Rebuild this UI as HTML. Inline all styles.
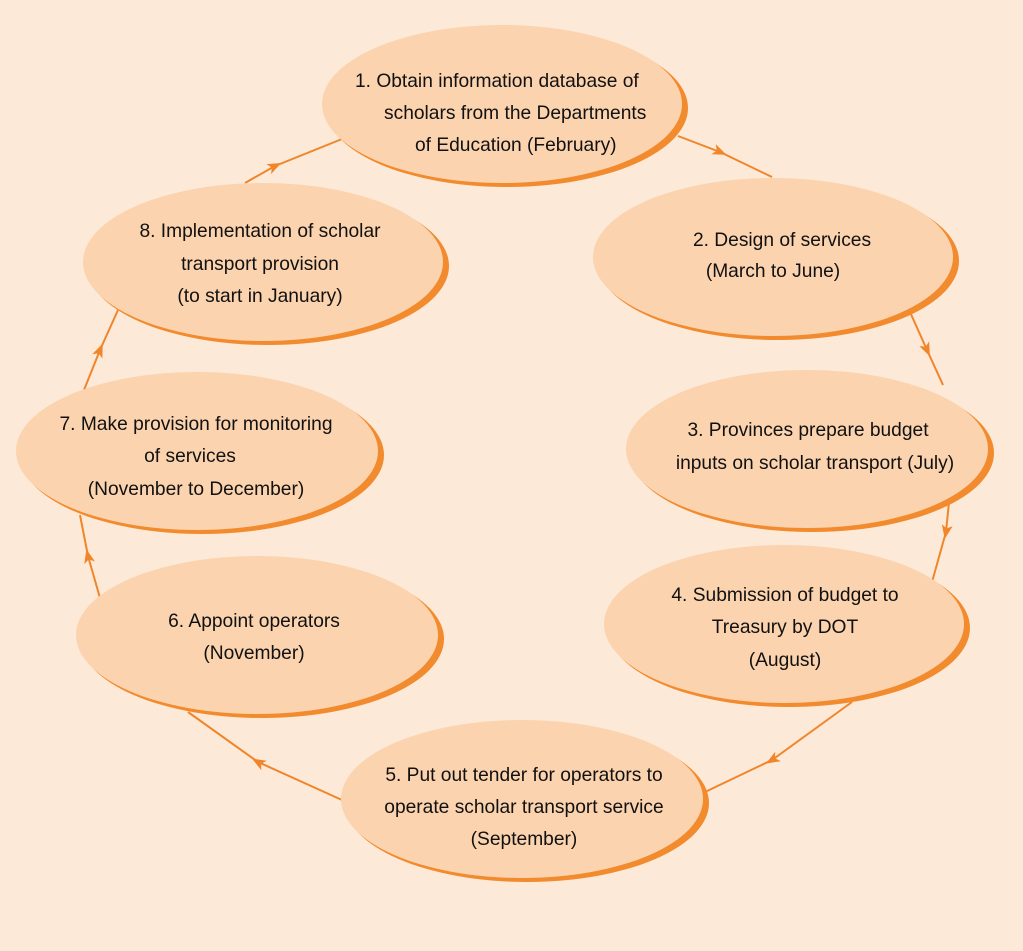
<!DOCTYPE html>
<html><head><meta charset="utf-8"><style>
html,body{margin:0;padding:0;background:#fde9d7;}
svg{display:block}
text{font-family:"Liberation Sans",Arial,sans-serif;font-size:19.2px;fill:#111;}
</style></head><body>
<svg width="1023" height="951" viewBox="0 0 1023 951" xmlns="http://www.w3.org/2000/svg">
<defs>
<marker id="a" viewBox="0 0 14 11" refX="7" refY="5.5" markerWidth="14" markerHeight="11" markerUnits="userSpaceOnUse" orient="auto">
<path d="M0,0 L14,5.5 L0,11 L3.5,5.5 Z" fill="#f0852a"/>
</marker>
</defs>
<rect width="1023" height="951" fill="#fde9d7"/>
<g fill="none" stroke="#f0852a" stroke-width="2" marker-mid="url(#a)">
<polyline points="678,136 720,152 772,177"/>
<polyline points="910,312 927,350 943,385"/>
<polyline points="950,492 946,532 932,582"/>
<polyline points="852,702 772,760 705,792"/>
<polyline points="342,800 258,762 188,712"/>
<polyline points="100,598 88,556 80,515"/>
<polyline points="84,390 100,350 118,310"/>
<polyline points="245,183 275,166 342,139"/>
</g>
<g fill="#f28a2e">
<ellipse cx="507" cy="108" rx="181" ry="79"/>
<ellipse cx="778" cy="261" rx="181" ry="79"/>
<ellipse cx="812" cy="453" rx="182" ry="79"/>
<ellipse cx="789" cy="628" rx="181" ry="79"/>
<ellipse cx="527" cy="803" rx="182" ry="79"/>
<ellipse cx="262" cy="639" rx="182" ry="79"/>
<ellipse cx="202" cy="455" rx="182" ry="79"/>
<ellipse cx="268" cy="266" rx="181" ry="79"/>
</g>
<g fill="#fbd3ae">
<ellipse cx="502" cy="104" rx="180" ry="79"/>
<ellipse cx="773" cy="257" rx="180" ry="79"/>
<ellipse cx="807" cy="449" rx="181" ry="79"/>
<ellipse cx="784" cy="624" rx="180" ry="79"/>
<ellipse cx="522" cy="799" rx="181" ry="79"/>
<ellipse cx="257" cy="635" rx="181" ry="79"/>
<ellipse cx="197" cy="451" rx="181" ry="79"/>
<ellipse cx="263" cy="262" rx="180" ry="79"/>
</g>
<text x="355" y="87">1. Obtain information database of</text>
<text x="384" y="119">scholars from the Departments</text>
<text x="415" y="151">of Education (February)</text>
<g text-anchor="middle">
<text x="782" y="246">2. Design of services</text>
<text x="773" y="277">(March to June)</text>
<text x="808" y="436">3. Provinces prepare budget</text>
<text x="815" y="469">inputs on scholar transport (July)</text>
<text x="785" y="601">4. Submission of budget to</text>
<text x="785" y="633">Treasury by DOT</text>
<text x="785" y="666">(August)</text>
<text x="524" y="781">5. Put out tender for operators to</text>
<text x="524" y="813">operate scholar transport service</text>
<text x="524" y="845">(September)</text>
<text x="254" y="627">6. Appoint operators</text>
<text x="254" y="659">(November)</text>
<text x="196" y="430">7. Make provision for monitoring</text>
<text x="190" y="462">of services</text>
<text x="196" y="495">(November to December)</text>
<text x="260" y="237">8. Implementation of scholar</text>
<text x="260" y="270">transport provision</text>
<text x="260" y="302">(to start in January)</text>
</g>
</svg>
</body></html>
